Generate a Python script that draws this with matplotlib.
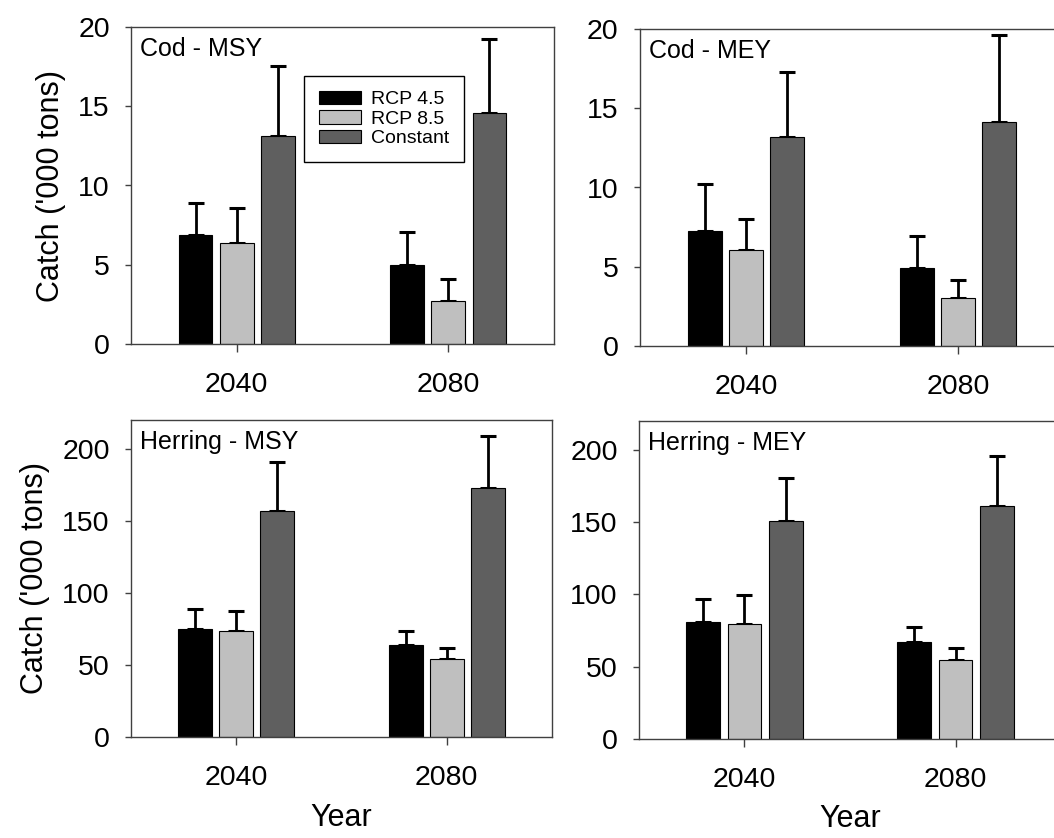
import numpy as np
import matplotlib
matplotlib.use('Agg')
import matplotlib.pyplot as plt

plt.rcParams['font.family'] = ['Liberation Sans', 'DejaVu Sans']

years = ['2040', '2080']
scenarios = ['RCP 4.5', 'RCP 8.5', 'Constant']
colors = ['#000000', '#bfbfbf', '#5f5f5f']

# rows = scenarios, columns = years
cod_msy_mean = [[6.90, 4.96], [6.37, 2.70], [13.14, 14.59]]
cod_msy_err = [[2.02, 2.08], [2.21, 1.37], [4.37, 4.67]]

cod_mey_mean = [[7.27, 4.94], [6.06, 3.00], [13.16, 14.13]]
cod_mey_err = [[2.95, 1.99], [1.94, 1.14], [4.12, 5.47]]

her_msy_mean = [[75.0, 64.1], [73.8, 54.1], [156.7, 172.7]]
her_msy_err = [[13.9, 9.2], [13.5, 7.4], [33.9, 36.4]]

her_mey_mean = [[80.8, 67.3], [79.6, 54.7], [150.9, 161.2]]
her_mey_err = [[16.1, 10.2], [19.8, 8.1], [29.5, 34.6]]

cod_ticks = [0, 5, 10, 15, 20]
her_ticks = [0, 50, 100, 150, 200]


def panel(ax, means, errs, label, ylim, yticks):
    x = np.arange(len(years))
    width = 0.16
    step = 0.195
    for i in range(len(scenarios)):
        pos = x + (i - 1) * step
        ax.bar(pos, means[i], width, color=colors[i], edgecolor='black',
               linewidth=0.8, label=scenarios[i], zorder=2)
        ax.errorbar(pos, means[i], yerr=[np.zeros(len(years)), errs[i]],
                    fmt='none', ecolor='black', elinewidth=2.0, capsize=5.8,
                    capthick=2.2, zorder=1)
    ax.set_xlim(-0.5, 1.5)
    ax.set_ylim(*ylim)
    ax.set_xticks(x)
    ax.set_xticklabels(years)
    ax.set_yticks(yticks)
    ax.tick_params(axis='both', direction='out', labelsize=20.5, color='#404040',
                   width=1.0)
    ax.tick_params(axis='x', length=5.8, pad=14)
    ax.tick_params(axis='y', length=4.3, pad=11)
    for s in ax.spines.values():
        s.set_color('#404040')
        s.set_linewidth(1.0)
    ax.annotate(label, xy=(0, 1), xycoords='axes fraction', xytext=(6.5, -7.5),
                textcoords='offset points', ha='left', va='top', fontsize=18)


fig = plt.figure(figsize=(10.54, 8.38), dpi=100)
W, H = 1054.0, 838.0

ax1 = fig.add_axes([131 / W, 1 - 344 / H, 423 / W, 317 / H])
ax2 = fig.add_axes([640 / W, 1 - 346 / H, 424 / W, 317 / H])
ax3 = fig.add_axes([131 / W, 1 - 737 / H, 421 / W, 317 / H])
ax4 = fig.add_axes([639 / W, 1 - 739 / H, 422 / W, 318 / H])

panel(ax1, cod_msy_mean, cod_msy_err, 'Cod - MSY', (0, 20), cod_ticks)
panel(ax2, cod_mey_mean, cod_mey_err, 'Cod - MEY', (0, 20), cod_ticks)
panel(ax3, her_msy_mean, her_msy_err, 'Herring - MSY', (0, 220), her_ticks)
panel(ax4, her_mey_mean, her_mey_err, 'Herring - MEY', (0, 220), her_ticks)

ax1.set_ylabel("Catch ('000 tons)", fontsize=22, labelpad=9)
ax3.set_ylabel("Catch ('000 tons)", fontsize=22, labelpad=9)
ax3.set_xlabel('Year', fontsize=22, labelpad=9)
ax4.set_xlabel('Year', fontsize=22, labelpad=8)

leg = ax1.legend(loc='upper left', bbox_to_anchor=(304 / W, 1 - 76 / H),
                 bbox_transform=fig.transFigure, borderaxespad=0, fontsize=14,
                 fancybox=False, framealpha=1, edgecolor='black',
                 handlelength=2.2, handleheight=0.7, handletextpad=0.5,
                 labelspacing=0.1, borderpad=0.75)
leg.get_frame().set_linewidth(1.0)

fig.savefig('out.png', dpi=100)
